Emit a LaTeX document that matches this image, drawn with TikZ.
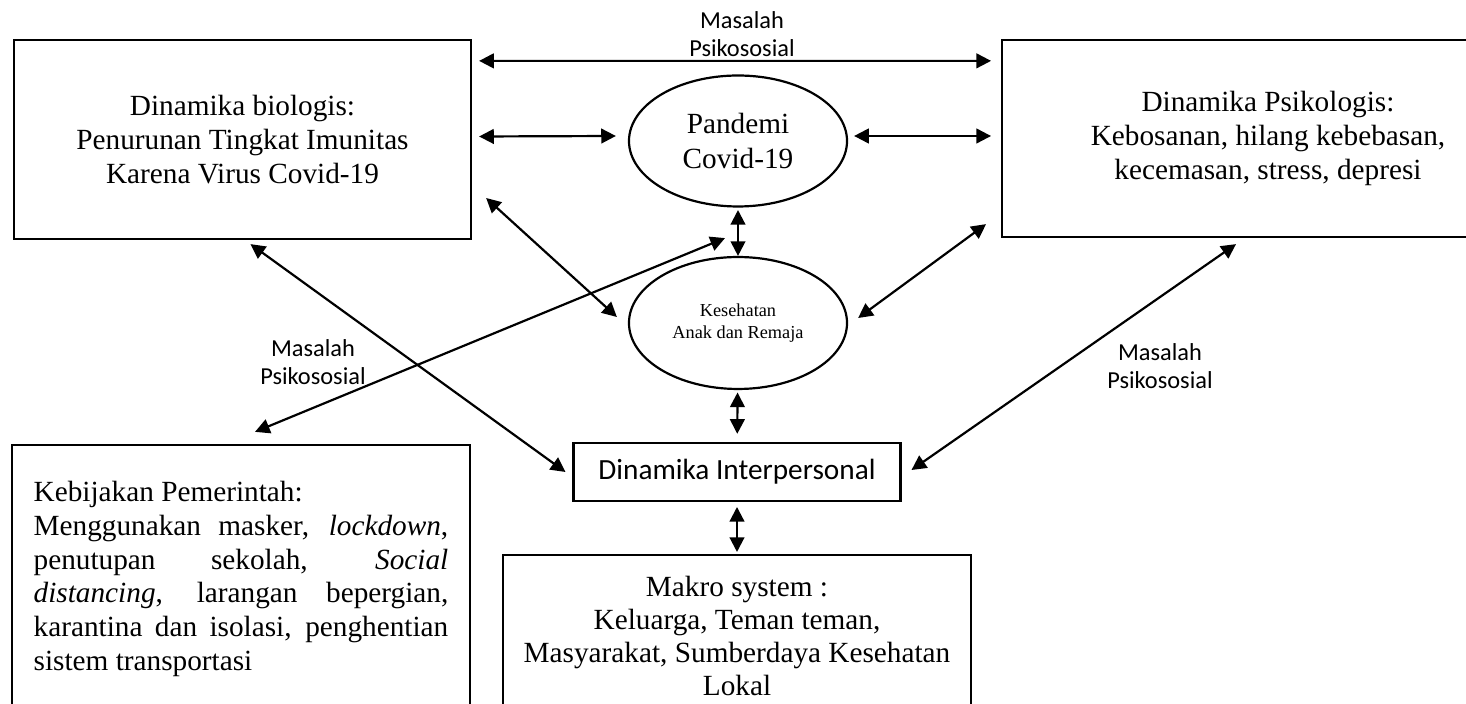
\documentclass[tikz,border=0pt]{standalone}
\usepackage{fontspec}
\setmainfont{Liberation Serif}
\setsansfont{Carlito}
\usetikzlibrary{shapes.geometric, arrows.meta, calc}

\begin{document}
\begin{tikzpicture}[x=0.41pt, y=-0.41pt,
    dynbox/.style={rectangle, draw=black, line width=0.9pt, align=center,
                   font=\fontsize{12}{14}\selectfont},
    oval/.style={ellipse, draw=black, line width=0.9pt, align=center, inner sep=0pt},
    arrow/.style={{Triangle[length=6pt, width=6pt]}-{Triangle[length=6pt, width=6pt]}, line width=0.9pt},
    psylabel/.style={font=\sffamily\fontsize{10}{11.5}\selectfont, align=center}]

    \useasboundingbox (0,0) rectangle (1466,704);

    % Dinamika (top)
    \node[dynbox, minimum width=187.4pt, minimum height=81.6pt] (bio) at (242.5,139.5)
        {Dinamika biologis:\\Penurunan Tingkat Imunitas\\Karena Virus Covid-19};
    \node[dynbox, minimum width=218pt, minimum height=80.8pt] (psi) at (1268,138.5)
        {Dinamika Psikologis:\\Kebosanan, hilang kebebasan,\\kecemasan, stress, depresi};

    % Centre ovals
    \node[oval, minimum width=89.4pt, minimum height=53.7pt, font=\fontsize{12}{14.3}\selectfont] (pandemi) at (738,141) {Pandemi\\Covid-19};
    \node[oval, minimum width=89.4pt, minimum height=54.1pt, font=\fontsize{7.5}{9.3}\selectfont] (kesehatan) at (738,323) {Kesehatan\\Anak dan Remaja};

    % Bottom boxes
    \node[dynbox, font=\sffamily\fontsize{12}{14}\selectfont, minimum width=134pt, minimum height=23.8pt] (inter) at (737,472) {Dinamika Interpersonal};
    \node[dynbox, minimum width=191.9pt, minimum height=66.4pt, font=\fontsize{12}{13.5}\selectfont] (makro) at (737,636)
        {Makro system :\\Keluarga, Teman teman,\\Masyarakat, Sumberdaya Kesehatan\\Lokal};
    \node[dynbox, align=justify, text width=170pt, inner xsep=8.8pt, minimum height=109.9pt, font=\fontsize{12}{13.8}\selectfont] (kebijakan) at (241,579)
        {Kebijakan Pemerintah:\\Menggunakan masker, \textit{lockdown},\linebreak penutupan sekolah, \textit{Social}\linebreak \textit{distancing}, larangan bepergian,\linebreak karantina dan isolasi, penghentian\linebreak sistem transportasi};

    % Labels
    \node[psylabel] (mtop) at (742,34) {Masalah\\Psikososial};
    \node[psylabel] (mleft) at (313,362) {Masalah\\Psikososial};
    \node[psylabel] (mright) at (1160,366) {Masalah\\Psikososial};

    % Connections
    \draw[arrow] ($(bio.north east)+(7,22)$) -- ($(psi.north west)+(-10,22)$);
    \draw[arrow] ($(bio.east)+(7,-3)$) -- ($(pandemi.west)+(-12,-5)$);
    \draw[arrow] ($(pandemi.east)+(6,-5)$) -- ($(psi.west)+(-10,-2.5)$);
    \draw[arrow, shorten <=1pt] (pandemi) -- (kesehatan);
    \draw[arrow] ($(bio.east)+(14,58.5)$) -- ($(kesehatan.west)+(-11,-6)$);
    \draw[arrow] ($(psi.south west)+(-15,-14)$) -- ($(kesehatan.east)+(10,-5)$);
    \draw[arrow, shorten <=1pt, shorten >=3.3pt] (kesehatan) -- (inter);
    \draw[arrow, shorten <=2pt, shorten >=0.8pt] (inter) -- (makro);
    \draw[arrow] ($(bio.south)+(8,4)$) -- ($(inter.west)+(-7,0)$);
    \draw[arrow] ($(psi.south)+(-32,6)$) -- ($(inter.east)+(10,-2)$);
    \draw[arrow] ($(kebijakan.north)+(14,-12)$) -- ($(pandemi.south)+(-13,30.5)$);

\end{tikzpicture}
\end{document}
